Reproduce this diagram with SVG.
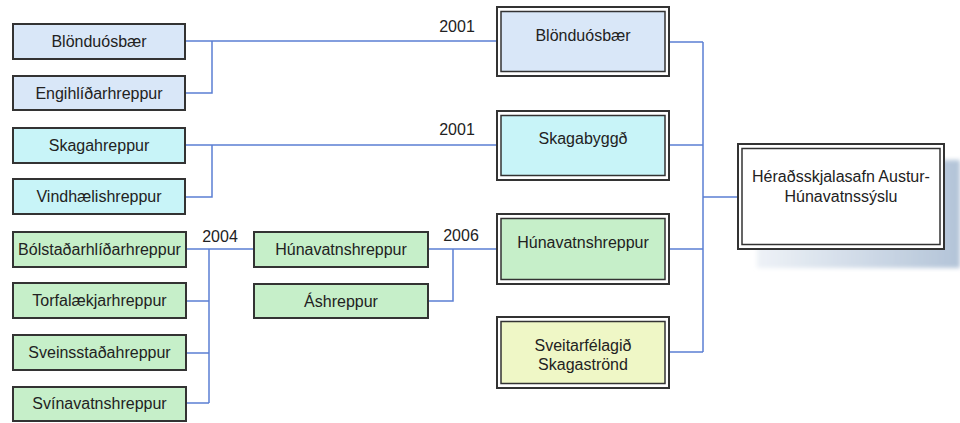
<svg xmlns="http://www.w3.org/2000/svg" width="960" height="423" viewBox="0 0 960 423">
<defs>
<linearGradient id="shadowGrad" x1="0" y1="0" x2="1" y2="0">
<stop offset="0" stop-color="#eef2f7"/>
<stop offset="1" stop-color="#b3c4d8"/>
</linearGradient>
<filter id="blur" x="-10%" y="-10%" width="120%" height="120%"><feGaussianBlur stdDeviation="2"/></filter>
</defs>
<style>
text{font-family:"Liberation Sans",Arial,sans-serif;font-size:16px;fill:#222;text-anchor:middle}
.sb{stroke:#333;stroke-width:2}
.outer{fill:none;stroke:#333;stroke-width:2}
.inner{stroke:#333;stroke-width:1.5}
.blue{fill:#d9e7f8}
.cyan{fill:#c8f4f8}
.green{fill:#c6efc9}
.yellow{fill:#eff7c6}
.white{fill:#ffffff}
.conn{fill:none;stroke:#5b7fd3;stroke-width:1.5}
</style>
<rect width="960" height="423" fill="#ffffff"/>

<g id="connectors">
<path class="conn" d="M185,41 H496 M185,93 H212 V41"/>
<path class="conn" d="M185,145 H496 M185,197 H212 V145"/>
<path class="conn" d="M186,249 H254 M186,301 H209 M186,353 H209 M186,403 H209 M209,249 V403"/>
<path class="conn" d="M428,249 H496 M428,301 H453 V249"/>
<path class="conn" d="M670,42 H703 M670,145 H703 M670,249 H703 M670,352 H703 M703,42 V352 M703,197 H738"/>
</g>

<g id="labels">
<text x="457" y="32">2001</text>
<text x="457" y="135">2001</text>
<text x="220" y="242">2004</text>
<text x="461" y="241">2006</text>
</g>

<g id="n-blonduosbaer-l"><rect class="sb blue" x="13" y="24" width="172" height="35"/><text x="99" y="47">Blönduósbær</text></g>
<g id="n-engihlidarhreppur"><rect class="sb blue" x="13" y="76" width="172" height="34"/><text x="99" y="99">Engihlíðarhreppur</text></g>
<g id="n-skagahreppur"><rect class="sb cyan" x="13" y="128" width="172" height="35"/><text x="99" y="151">Skagahreppur</text></g>
<g id="n-vindhaelishreppur"><rect class="sb cyan" x="13" y="179" width="172" height="35"/><text x="99" y="202">Vindhælishreppur</text></g>
<g id="n-bolstadarhlidarhreppur"><rect class="sb green" x="13" y="232" width="173" height="35"/><text x="99.5" y="255">Bólstaðarhlíðarhreppur</text></g>
<g id="n-torfalaekjarhreppur"><rect class="sb green" x="13" y="283" width="173" height="35"/><text x="99.5" y="306">Torfalækjarhreppur</text></g>
<g id="n-sveinsstadahreppur"><rect class="sb green" x="13" y="335" width="173" height="35"/><text x="99.5" y="358">Sveinsstaðahreppur</text></g>
<g id="n-svinavatnshreppur"><rect class="sb green" x="13" y="387" width="173" height="34"/><text x="99.5" y="409">Svínavatnshreppur</text></g>

<g id="n-hunavatnshreppur-s"><rect class="sb green" x="254" y="232" width="174" height="35"/><text x="341" y="255">Húnavatnshreppur</text></g>
<g id="n-ashreppur"><rect class="sb green" x="254" y="284" width="174" height="34"/><text x="341" y="307">Áshreppur</text></g>

<g id="n-blonduosbaer-b"><rect class="outer" x="497" y="7" width="172" height="69"/><rect class="inner blue" x="501" y="11.5" width="164" height="60"/><text x="583" y="41">Blönduósbær</text></g>
<g id="n-skagabyggd"><rect class="outer" x="497" y="111" width="172" height="69"/><rect class="inner cyan" x="501" y="115.5" width="164" height="60"/><text x="583" y="144">Skagabyggð</text></g>
<g id="n-hunavatnshreppur-b"><rect class="outer" x="497" y="214" width="172" height="70"/><rect class="inner green" x="501" y="218.5" width="164" height="61"/><text x="583" y="248">Húnavatnshreppur</text></g>
<g id="n-sveitarfelagid"><rect class="outer" x="497" y="317" width="172" height="71"/><rect class="inner yellow" x="501" y="321.5" width="164" height="62"/><text x="583" y="351">Sveitarfélagið</text><text x="583" y="370">Skagaströnd</text></g>

<g id="n-heradsskjalasafn">
<rect x="757" y="160" width="203" height="108" fill="url(#shadowGrad)" filter="url(#blur)"/>
<rect class="outer white" x="738" y="144" width="206" height="105"/>
<rect class="inner white" x="742" y="148.5" width="198" height="96"/>
<text x="841" y="182">Héraðsskjalasafn Austur-</text>
<text x="841" y="202">Húnavatnssýslu</text>
</g>
</svg>
